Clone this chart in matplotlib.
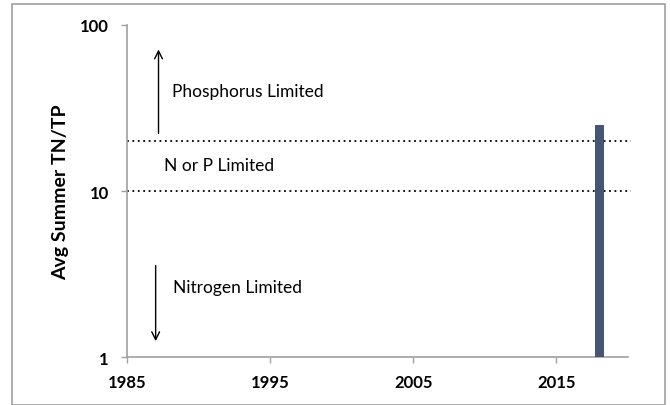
import matplotlib
matplotlib.use("Agg")
import matplotlib.pyplot as plt
from matplotlib.patches import Rectangle

years = [2018]
tn_tp = [25]
thresholds = [20, 10]
xticks = [1985, 1995, 2005, 2015]
yticks = [1, 10, 100]
ytick_labels = ["1", "10", "100"]

plt.rcParams['font.family'] = ['Lato', 'DejaVu Sans']

fig = plt.figure(figsize=(6.7, 4.06), dpi=100)
ax = fig.add_axes([0.1896, 0.118, 0.7474, 0.818])

ax.bar(years, tn_tp, width=0.65, color='#475670', zorder=3)
for t in thresholds:
    ax.plot([1985, 2020.2], [t, t], linestyle=(0, (1, 2)), color='black', lw=1.3, zorder=2, clip_on=False)

ax.set_yscale('log')
ax.set_ylim(1, 100)
ax.set_xlim(1985, 2020)
ax.set_yticks(yticks)
ax.set_yticklabels(ytick_labels)
ax.minorticks_off()
ax.set_xticks(xticks)
ax.set_xticklabels([str(x) for x in xticks])
for lbl in ax.get_xticklabels() + ax.get_yticklabels():
    lbl.set_fontweight('bold')
    lbl.set_fontsize(12)

ax.tick_params(axis='both', colors='#a0a0a0', length=4, width=1, labelcolor='black')
ax.tick_params(axis='x', pad=8)
ax.tick_params(axis='y', pad=9)
for s in ['top', 'right']:
    ax.spines[s].set_visible(False)
for s in ['left', 'bottom']:
    ax.spines[s].set_color('#a0a0a0')
    ax.spines[s].set_linewidth(1.2)

ax.set_ylabel('Avg Summer TN/TP', fontsize=14, fontweight='bold', labelpad=8)

# arrows
ax.annotate('', xy=(1987.2, 74), xytext=(1987.2, 21.4),
            arrowprops=dict(arrowstyle='->', color='black', lw=1, mutation_scale=14))
ax.annotate('', xy=(1987.0, 1.2), xytext=(1987.0, 3.7),
            arrowprops=dict(arrowstyle='->', color='black', lw=1, mutation_scale=14))

ax.text(1988.15, 40, 'Phosphorus Limited', fontsize=12.5, va='center', ha='left')
ax.text(1987.6, 14.3, 'N or P Limited', fontsize=12.5, va='center', ha='left')
ax.text(1988.2, 2.65, 'Nitrogen Limited', fontsize=12.5, va='center', ha='left')

fig.patches.append(Rectangle((12/670, 0.0), 653/670, 1 - 5/406, transform=fig.transFigure,
                             fill=False, edgecolor='#a0a0a0', lw=1.2))

fig.savefig('out.png', dpi=100)
